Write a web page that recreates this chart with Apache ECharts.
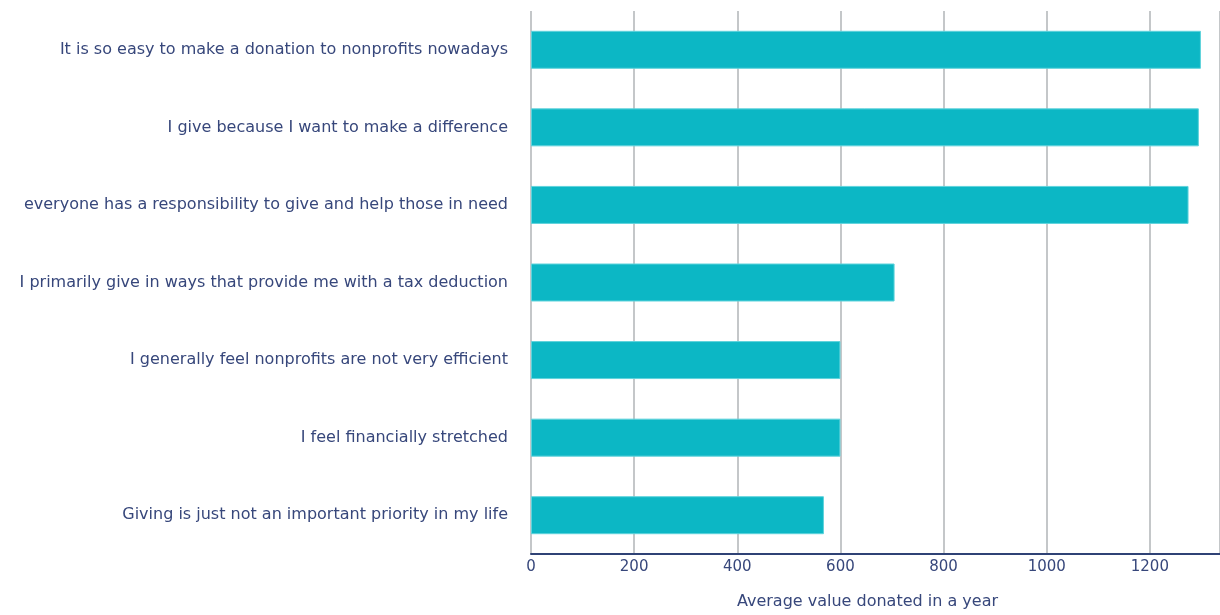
<!DOCTYPE html>
<html>
<head>
<meta charset="utf-8">
<script src="https://cdn.jsdelivr.net/npm/echarts@6/dist/echarts.min.js"></script>
<style>
html,body{margin:0;padding:0;background:#fff;}
#chart{width:1220px;height:615px;}
</style>
</head>
<body>
<div id="chart"></div>
<script>
// Survey statements, listed bottom-to-top as the category axis draws them
const statements = [
  "Giving is just not an important priority in my life",
  "I feel financially stretched",
  "I generally feel nonprofits are not very efficient",
  "I primarily give in ways that provide me with a tax deduction",
  "everyone has a responsibility to give and help those in need",
  "I give because I want to make a difference",
  "It is so easy to make a donation to nonprofits nowadays"
];
// Average value donated in a year for respondents agreeing with each statement
const avgDonated = [568, 600, 600, 705, 1275, 1295, 1299];
const axisTitle = "Average value donated in a year";

const textColor = "#37477b";
const font = 'DejaVu Sans';
const chart = echarts.init(document.getElementById('chart'), null, {renderer: 'canvas'});
chart.setOption({
  animation: false,
  grid: {left: 531, right: 0, top: 11, bottom: 57, containLabel: false},
  xAxis: {
    type: 'value',
    min: 0,
    max: 1336,
    interval: 200,
    name: axisTitle,
    nameLocation: 'middle',
    nameGap: 40,
    nameTextStyle: {color: textColor, fontSize: 16, fontFamily: font, padding: [0, 16, 0, 0]},
    axisLine: {show: true, lineStyle: {color: '#2f4275', width: 2}},
    axisTick: {show: false},
    axisLabel: {
      color: textColor, fontSize: 15, fontFamily: font, margin: 6,
      showMaxLabel: false,
      formatter: v => String(v)
    },
    splitLine: {show: true, lineStyle: {color: '#c4c7c9', width: 2}}
  },
  yAxis: {
    type: 'category',
    data: statements,
    axisLine: {show: false},
    axisTick: {show: false},
    axisLabel: {color: textColor, fontSize: 16, fontFamily: font, margin: 23}
  },
  series: [{
    type: 'bar',
    data: avgDonated,
    barWidth: 38,
    itemStyle: {color: '#0cb7c5', borderColor: '#5fd3dc', borderWidth: 1}
  }]
});
</script>
</body>
</html>
